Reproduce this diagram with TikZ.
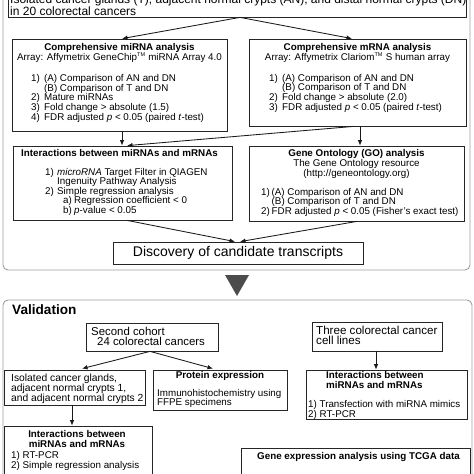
\documentclass[tikz,border=0pt]{standalone}
\usepackage{fontspec}
\setmainfont{Liberation Sans}
\usetikzlibrary{calc,arrows.meta}
\newcommand{\fs}[2]{\fontsize{#1}{#2}\selectfont}
\newcommand{\nb}[2]{\makebox[#1][l]{#2}}
\newcommand{\pb}[2]{\parbox[t]{#1}{\raggedright #2}}
\newcommand{\tmk}{\textsuperscript{\fs{5.5}{5.5}TM}}
\begin{document}
\begin{tikzpicture}[x=1pt,y=-1pt,
  outer/.style={draw=black!38, line width=0.9pt, rounded corners=5pt},
  box/.style={draw=black!85, line width=0.75pt, inner sep=0pt},
  txt/.style={inner sep=0pt, anchor=base west, font=\fs{9.8}{9.7}},
  ctr/.style={inner sep=0pt, anchor=base, font=\fs{9.8}{9.7}},
  ttl/.style={inner sep=0pt, anchor=base, font=\bfseries\fs{9.8}{9.7}},
  arr/.style={draw=black!90, line width=0.85pt, -{Latex[length=5.5pt,width=4.5pt]}},
  tri/.style={fill=black!70}]
\useasboundingbox (0,0) rectangle (474,474);
\clip (0,0) rectangle (474,474);

% ---------- outer frames ----------
\draw[outer] (3,-30) rectangle (470,270);
\draw[outer] (3,300) rectangle (472,520);

% ---------- discovery part ----------
\node[box, minimum width=458pt, minimum height=37pt] (tadn) at (237,-1.5) {};
\node[txt, font=\fs{12}{12}] (tadnt) at (10,3) {\pb{462pt}{Isolated cancer glands (T), adjacent normal crypts (AN), and distal normal crypts (DN)\\in 20 colorectal cancers}};

\node[box, minimum width=215pt, minimum height=92pt] (mirna) at (119.5,85) {};
\node[ttl] (mirnat) at (119.5,50) {Comprehensive miRNA analysis};
\node[ctr] (mirnaa) at (119.5,60) {Array: Affymetrix GeneChip\tmk{} miRNA Array 4.0};
\node[txt] (mirnal) at (31,81.5) {\pb{194pt}{\nb{13pt}{1)}(A) Comparison of AN and DN\\\hspace*{13pt}(B) Comparison of T and DN\\\nb{13pt}{2)}Mature miRNAs\\\nb{13pt}{3)}Fold change > absolute (1.5)\\\nb{13pt}{4)}FDR adjusted \textit{p} < 0.05 (paired \textit{t}-test)}};

\node[box, minimum width=217pt, minimum height=87pt] (mrna) at (357.5,82.5) {};
\node[ttl] (mrnat) at (357.5,50) {Comprehensive mRNA analysis};
\node[ctr] (mrnaa) at (357.5,60) {Array: Affymetrix Clariom\tmk{} S human array};
\node[txt] (mrnal) at (269,81) {\pb{196pt}{\nb{13pt}{1)}(A) Comparison of AN and DN\\\hspace*{13pt}(B) Comparison of T and DN\\\nb{13pt}{2)}Fold change > absolute (2.0)\\\nb{13pt}{3)}FDR adjusted \textit{p} < 0.05 (paired \textit{t}-test)}};

\node[box, minimum width=219pt, minimum height=74pt] (inter) at (122.5,183) {};
\node[ttl] (intert) at (119.5,156.7) {Interactions between miRNAs and mRNAs};
\node[txt, font=\fs{9.8}{9.6}] (interl) at (45,175) {\pb{186pt}{\nb{12pt}{1)}\textit{microRNA} Target Filter in QIAGEN\\\hspace*{12pt}Ingenuity Pathway Analysis\\\nb{12pt}{2)}Simple regression analysis\\\hspace*{18pt}\nb{11pt}{a)}Regression coefficient < 0\\\hspace*{18pt}\nb{11pt}{b)}\textit{p}-value < 0.05}};

\node[box, minimum width=215pt, minimum height=75pt] (go) at (356.5,183.5) {};
\node[ttl] (got) at (356.5,156.7) {Gene Ontology (GO) analysis};
\node[ctr] (goa) at (356.5,166) {The Gene Ontology resource};
\node[ctr] (gob) at (356.5,176) {(http://geneontology.org)};
\node[txt, font=\fs{9.8}{9.6}] (gol) at (261,195) {\pb{202pt}{\nb{10.5pt}{1)}(A) Comparison of AN and DN\\\hspace*{10.5pt}(B) Comparison of T and DN\\\nb{10.5pt}{2)}FDR adjusted \textit{p} < 0.05 (Fisher’s exact test)}};

\node[box, minimum width=250pt, minimum height=22pt, font=\fs{14}{14}] (disc) at (238,253) {Discovery of candidate transcripts};

\draw[arr] ($(tadn.south)+(3,0)$) -- ($(mirna.north)+(2.5,0)$);
\draw[arr] ($(tadn.south)+(3,0)$) -- ($(mrna.north)+(-5.5,0)$);
\draw[arr] ($(mirna.south)+(2.5,0)$) -- ($(inter.north)+(-0.5,0)$);
\draw[arr] ($(mrna.south)+(-3.5,0)$) -- ($(inter.north)+(4.5,0)$);
\draw[arr] ($(mrna.south)+(2.5,0)$) -- ($(go.north)+(3.5,0)$);
\draw[arr] ($(inter.south)+(4.5,0)$) -- ($(disc.north)+(-3,0)$);
\draw[arr] ($(go.south)+(0.5,0)$) -- ($(disc.north)+(2,0)$);

% ---------- transition ----------
\fill[tri] (225,275) -- (249,275) -- (237,296) -- cycle;

% ---------- validation part ----------
\node[txt, font=\bfseries\fs{13.6}{13.6}] (valt) at (12,314) {Validation};

\node[box, minimum width=132pt, minimum height=28pt] (cohort) at (152,337) {};
\node[txt, font=\fs{11.4}{10.2}] (cohortt) at (91,335) {\pb{126pt}{Second cohort\\\hspace*{6pt}24 colorectal cancers}};

\node[box, minimum width=130pt, minimum height=29pt] (cells) at (377,336.5) {};
\node[txt, font=\fs{11.6}{10.2}] (cellst) at (316,334) {\pb{128pt}{Three colorectal cancer\\cell lines}};

\node[box, minimum width=141pt, minimum height=35pt] (iso) at (74.5,387.5) {};
\node[txt, font=\fs{10.3}{10}] (isot) at (11,381) {\pb{138pt}{Isolated cancer glands,\\adjacent normal crypts 1,\\and adjacent normal crypts 2}};

\node[box, minimum width=134pt, minimum height=40pt] (prot) at (220,390) {};
\node[ttl] (prott) at (220,378) {Protein expression};
\node[txt, font=\fs{9.8}{9.2}] (protl) at (157,396) {\pb{130pt}{Immunohistochemistry using\\FFPE specimens}};

\node[box, minimum width=148pt, minimum height=74pt] (inter2) at (78,463) {};
\node[ttl, font=\bfseries\fs{9.8}{10}] (inter2t) at (77,437) {\parbox[t]{140pt}{\centering Interactions between\\miRNAs and mRNAs}};
\node[txt, font=\fs{9.8}{10.8}] (inter2l) at (11,458) {\pb{138pt}{1) RT-PCR\\2) Simple regression analysis}};

\node[box, minimum width=161pt, minimum height=49pt] (inter3) at (386.5,394.5) {};
\node[txt, font=\bfseries\fs{9.8}{10}] (inter3t) at (326,378) {\pb{138pt}{Interactions between\\miRNAs and mRNAs}};
\node[txt, font=\fs{9.8}{10}] (inter3l) at (308,407) {\pb{158pt}{1) Transfection with miRNA mimics\\2) RT-PCR}};

\node[box, minimum width=229pt, minimum height=52pt] (tcga) at (355.5,474) {};
\node[txt, font=\bfseries\fs{9.8}{9.8}] (tcgat) at (257,459) {Gene expression analysis using TCGA data};

\draw[arr] ($(cohort.south)+(-2,0)$) -- ($(iso.north)+(7.5,-1)$);
\draw[arr] ($(cohort.south)+(-2,0)$) -- ($(prot.north)+(-7,-1)$);
\draw[arr] ($(cells.south)+(-1,0)$) -- ($(inter3.north)+(-10.5,0)$);
\draw[arr] ($(iso.south)+(-2.5,0)$) -- ($(inter2.north)+(-6,0)$);
\end{tikzpicture}
\end{document}
